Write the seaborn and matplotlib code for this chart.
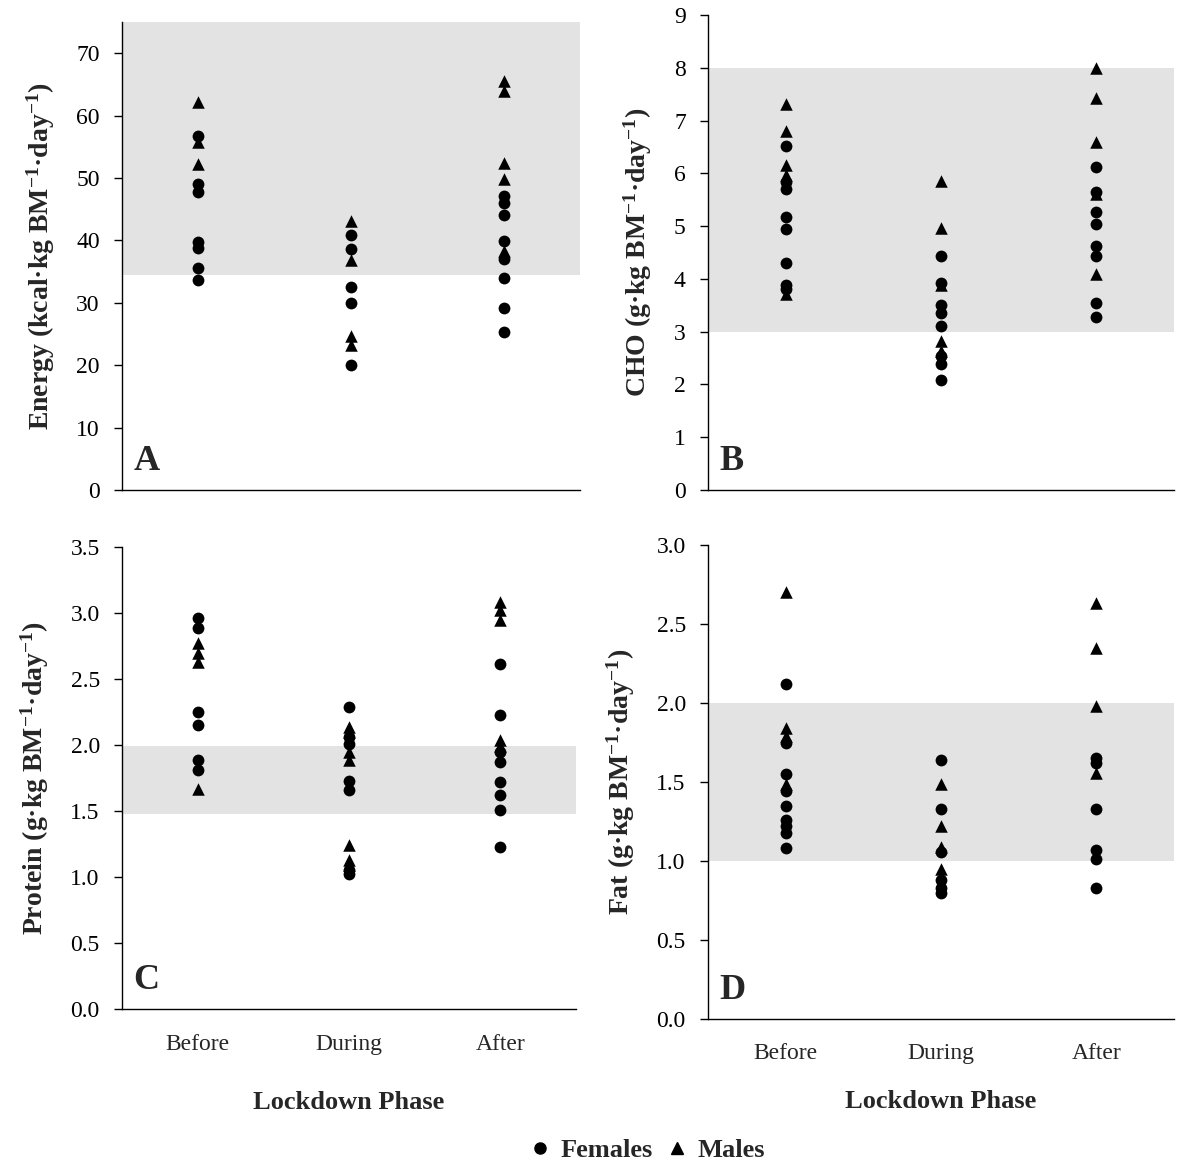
import numpy as np
import pandas as pd
import matplotlib
matplotlib.use("Agg")
import matplotlib.pyplot as plt
from matplotlib.lines import Line2D
import seaborn as sns

sns.set_theme(style="white")
plt.rcParams['font.family'] = ['Liberation Serif', 'DejaVu Serif']
plt.rcParams['mathtext.default'] = 'regular'

phases = ["Before", "During", "After"]

# Energy (kcal/kg BM/day)
energy_f = {"Before": [56.7, 49.0, 47.8, 39.8, 38.8, 35.5, 33.7],
            "During": [40.9, 38.7, 32.6, 29.9, 20.1],
            "After": [47.1, 46.0, 44.0, 39.9, 37.0, 34.0, 29.2, 25.4]}
energy_m = {"Before": [62.2, 55.7, 52.2],
            "During": [43.1, 36.9, 24.6, 23.2],
            "After": [65.6, 64.0, 52.4, 49.8, 38.3]}
# CHO (g/kg BM/day)
cho_f = {"Before": [6.51, 5.83, 5.70, 5.18, 4.94, 4.31, 3.88, 3.80],
         "During": [4.44, 3.92, 3.50, 3.35, 3.10, 2.53, 2.38, 2.09],
         "After": [6.12, 5.65, 5.26, 5.04, 4.63, 4.44, 3.55, 3.27]}
cho_m = {"Before": [7.32, 6.81, 6.16, 5.96, 3.72],
         "During": [5.86, 4.96, 3.88, 2.82, 2.63],
         "After": [8.00, 7.43, 6.59, 5.60, 4.09]}
# Protein (g/kg BM/day)
pro_f = {"Before": [2.96, 2.89, 2.25, 2.15, 1.89, 1.81],
         "During": [2.29, 2.06, 2.01, 1.73, 1.66, 1.05, 1.02],
         "After": [2.61, 2.23, 1.95, 1.87, 1.72, 1.62, 1.51, 1.23]}
pro_m = {"Before": [2.77, 2.70, 2.63, 1.67],
         "During": [2.14, 2.10, 1.95, 1.89, 1.24, 1.13, 1.09],
         "After": [3.08, 3.02, 2.95, 2.04, 1.99]}
# Fat (g/kg BM/day)
fat_f = {"Before": [2.12, 1.75, 1.55, 1.44, 1.35, 1.26, 1.22, 1.18, 1.08],
         "During": [1.64, 1.33, 1.06, 0.88, 0.83, 0.80],
         "After": [1.65, 1.62, 1.33, 1.07, 1.01, 0.83]}
fat_m = {"Before": [2.70, 1.84, 1.79, 1.49],
         "During": [1.49, 1.22, 1.09, 0.95],
         "After": [2.63, 2.35, 1.98, 1.56]}

panels = [
    ("A", energy_f, energy_m, "Energy (kcal·kg BM$^{-1}$·day$^{-1}$)", (0, 75), np.arange(0, 71, 10), (34.5, 75), "{:.0f}"),
    ("B", cho_f, cho_m, "CHO (g·kg BM$^{-1}$·day$^{-1}$)", (0, 9), np.arange(0, 10, 1), (3, 8), "{:.0f}"),
    ("C", pro_f, pro_m, "Protein (g·kg BM$^{-1}$·day$^{-1}$)", (0, 3.5), np.arange(0, 3.51, 0.5), (1.48, 1.99), "{:.1f}"),
    ("D", fat_f, fat_m, "Fat (g·kg BM$^{-1}$·day$^{-1}$)", (0, 3.0), np.arange(0, 3.01, 0.5), (1.0, 2.0), "{:.1f}"),
]

W, H = 1177, 1165
fig = plt.figure(figsize=(W / 100, H / 100), dpi=100)

# pixel boxes: left, right, top, bottom
boxes = {"A": (122, 580, 22, 490), "B": (708, 1174, 15, 490),
         "C": (122, 576, 547, 1009), "D": (708, 1174, 545, 1019)}

def long_df(d, sex):
    rows = []
    for ph in phases:
        for v in d[ph]:
            rows.append({"phase": ph, "value": v, "sex": sex})
    return pd.DataFrame(rows)

for letter, df_f, df_m, ylabel, ylim, yticks, band, fmt in panels:
    l, r, t, b = boxes[letter]
    ax = fig.add_axes([l / W, 1 - b / H, (r - l) / W, (b - t) / H])
    ax.axhspan(band[0], band[1], color="#e3e3e3", zorder=0, lw=0)
    dfF = long_df(df_f, "Females")
    dfM = long_df(df_m, "Males")
    sns.stripplot(data=dfF, x="phase", y="value", order=phases, jitter=False,
                  marker="o", color="black", size=8.5, linewidth=0, ax=ax, zorder=3)
    sns.stripplot(data=dfM, x="phase", y="value", order=phases, jitter=False,
                  marker="^", color="black", size=9, linewidth=0, ax=ax, zorder=3)
    ax.set_xlim(-0.5, 2.5)
    ax.set_ylim(*ylim)
    ax.set_yticks(yticks)
    ax.set_yticklabels([fmt.format(v) for v in yticks], fontsize=17)
    for s in ["top", "right"]:
        ax.spines[s].set_visible(False)
    for s in ["left", "bottom"]:
        ax.spines[s].set_color("black")
        ax.spines[s].set_linewidth(1.0)
    ax.tick_params(axis="y", direction="out", length=6, width=1, colors="black", left=True, pad=10)
    ax.set_ylabel(ylabel, fontsize=20, fontweight="bold", labelpad=14)
    ax.set_facecolor("none")
    if letter in ("C", "D"):
        ax.set_xticks(range(3))
        ax.set_xticklabels(phases, fontsize=17)
        ax.tick_params(axis="x", direction="out", length=0, pad=18 if letter == "C" else 17)
        ax.set_xlabel("Lockdown Phase", fontsize=19, fontweight="bold",
                      labelpad=26 if letter == "C" else 19)
    else:
        ax.set_xticks([])
        ax.set_xlabel("")
    ax.text(0.025, 0.025, letter, transform=ax.transAxes, fontsize=26,
            fontweight="bold", ha="left", va="bottom")

handles = [Line2D([], [], marker="o", color="black", linestyle="none", markersize=8),
           Line2D([], [], marker="^", color="black", linestyle="none", markersize=9)]
fig.legend(handles, ["Females", "Males"], loc="center", bbox_to_anchor=(646 / W, 1 - 1150 / H),
           ncol=2, frameon=False, handletextpad=0.3, columnspacing=0.4,
           prop={"size": 19, "weight": "bold"}, handlelength=1.0)

fig.savefig("out.png", dpi=100)
